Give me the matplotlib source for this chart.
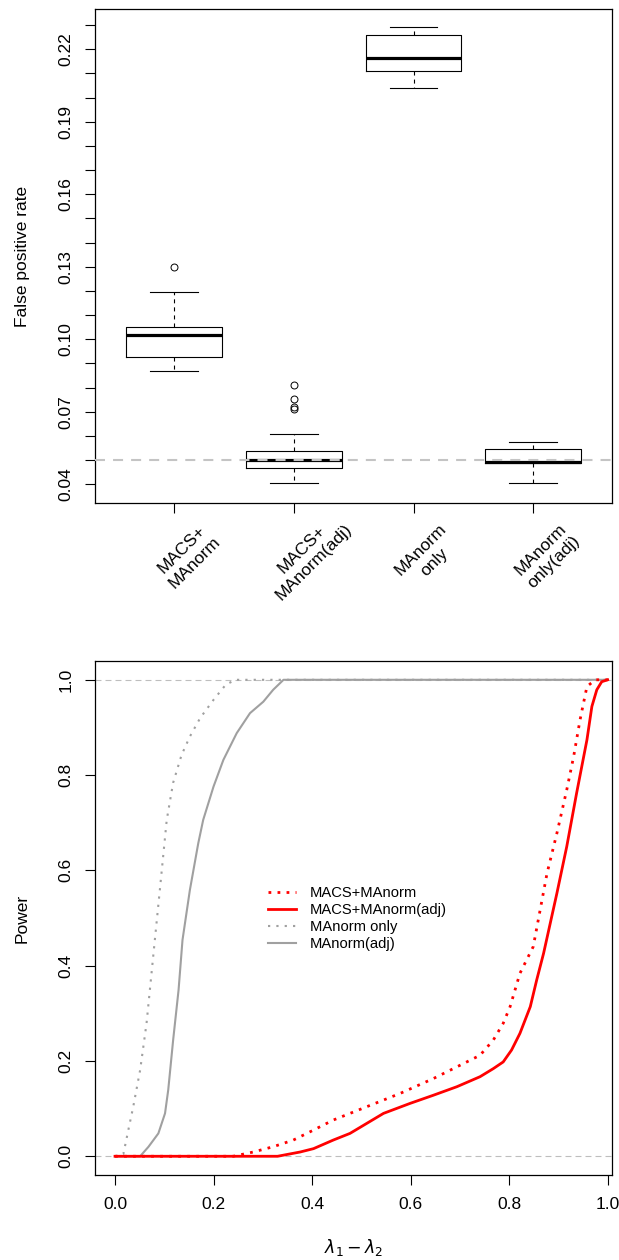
import numpy as np
import matplotlib.pyplot as plt
import matplotlib.transforms as mtransforms

plt.rcParams['font.family'] = ['Liberation Sans', 'DejaVu Sans']
plt.rcParams['lines.scale_dashes'] = False
plt.rcParams['axes.linewidth'] = 0.9

# False positive rate per method (box summary)
methods = ['MACS+\nMAnorm', 'MACS+\nMAnorm(adj)', 'MAnorm\nonly', 'MAnorm\nonly(adj)']
whisker_lo = [0.0869, 0.0404, 0.2039, 0.0404]
quart_lo = [0.0926, 0.0469, 0.2109, 0.0488]
medians = [0.1018, 0.0501, 0.2165, 0.0492]
quart_hi = [0.1051, 0.0539, 0.2259, 0.0547]
whisker_hi = [0.1196, 0.0608, 0.2291, 0.0575]
outliers = [[0.130], [0.0813, 0.0753, 0.0721, 0.0711], [], []]
nominal_fpr = 0.05

# Power curves against lambda1 - lambda2
macs_x = [0, 0.24, 0.281, 0.321, 0.362, 0.403, 0.443, 0.511, 0.579, 0.646, 0.714, 0.741,
          0.768, 0.788, 0.802, 0.822, 0.849, 0.877, 0.897, 0.917, 0.931, 0.944, 0.958, 0.975, 1.0]
macs_y = [0, 0, 0.009, 0.02, 0.034, 0.055, 0.076, 0.104, 0.132, 0.163, 0.198, 0.212,
          0.244, 0.279, 0.314, 0.384, 0.44, 0.594, 0.678, 0.769, 0.839, 0.916, 0.986, 1.0, 1.0]
macs_adj_x = [0, 0.33, 0.376, 0.403, 0.443, 0.477, 0.511, 0.545, 0.599, 0.646, 0.694, 0.741,
              0.768, 0.788, 0.805, 0.822, 0.843, 0.856, 0.870, 0.897, 0.917, 0.937, 0.958,
              0.968, 0.978, 0.988, 1.0]
macs_adj_y = [0, 0, 0.009, 0.016, 0.034, 0.048, 0.069, 0.09, 0.111, 0.128, 0.146, 0.167,
              0.184, 0.198, 0.223, 0.258, 0.314, 0.37, 0.426, 0.552, 0.65, 0.762, 0.874,
              0.944, 0.979, 0.996, 1.0]
manorm_x = [0, 0.017, 0.027, 0.037, 0.051, 0.064, 0.079, 0.091, 0.105, 0.118, 0.135, 0.152,
            0.173, 0.2, 0.225, 0.245, 1.0]
manorm_y = [0, 0.005, 0.055, 0.104, 0.181, 0.279, 0.435, 0.559, 0.706, 0.784, 0.842, 0.881,
            0.92, 0.958, 0.99, 1.0, 1.0]
manorm_adj_x = [0, 0.051, 0.068, 0.088, 0.1015, 0.108, 0.118, 0.129, 0.137, 0.152, 0.169,
                0.179, 0.2, 0.22, 0.247, 0.274, 0.301, 0.321, 0.342, 1.0]
manorm_adj_y = [0, 0, 0.02, 0.048, 0.09, 0.139, 0.244, 0.349, 0.454, 0.559, 0.657, 0.706,
                0.776, 0.832, 0.888, 0.93, 0.954, 0.979, 1.0, 1.0]
curve_labels = ['MACS+MAnorm', 'MACS+MAnorm(adj)', 'MAnorm only', 'MAnorm(adj)']

fig = plt.figure(figsize=(6.19, 12.6), dpi=100)
ax1 = fig.add_axes([0.1535, 0.601, 0.8357, 0.3916])
ax2 = fig.add_axes([0.1535, 0.0672, 0.8357, 0.4084])

FS = 12.5
tick_kw = dict(length=7.2, width=0.8, labelsize=FS, direction='out')

# ---- top: boxplots ----
stats = []
for i in range(len(methods)):
    stats.append(dict(whislo=whisker_lo[i], q1=quart_lo[i], med=medians[i],
                      q3=quart_hi[i], whishi=whisker_hi[i], fliers=outliers[i]))
ax1.bxp(stats, positions=range(1, 5), widths=0.8, capwidths=0.4, manage_ticks=False,
        boxprops=dict(color='black', linewidth=0.8),
        medianprops=dict(color='black', linewidth=2.3, solid_capstyle='butt'),
        whiskerprops=dict(color='black', linewidth=0.8, linestyle=(0, (2.9, 2.9))),
        capprops=dict(color='black', linewidth=0.8),
        flierprops=dict(marker='o', markerfacecolor='none', markeredgecolor='black',
                        markersize=5, markeredgewidth=0.7))
ax1.axhline(nominal_fpr, color='#C4C4C4', lw=1.5, ls=(0, (7.2, 5.8)), zorder=5)
ax1.set_xlim(0.34, 4.66)
ax1.set_ylim(0.0324, 0.2365)

yt = np.round(np.arange(0.04, 0.2301, 0.01), 2)
ax1.set_yticks(yt)
ax1.set_yticklabels([f'{v:.2f}' if i % 3 == 0 else '' for i, v in enumerate(yt)])
ax1.set_xticks(range(1, 5))
ax1.set_xticklabels([])
ax1.tick_params(axis='both', **tick_kw)
ax1.tick_params(axis='y', labelrotation=90, pad=8.5)
for lab in ax1.get_yticklabels():
    lab.set_va('center')

trans = mtransforms.blended_transform_factory(ax1.transData, ax1.transAxes)
for i, name in enumerate(methods):
    ax1.text(i + 1 + 0.117, -0.108, name, transform=trans, rotation=45, ha='center',
             va='center', multialignment='center', fontsize=FS, linespacing=1.25)
ax1.set_ylabel('False positive rate', fontsize=FS)
ax1.yaxis.set_label_coords(-0.126, 0.5)

# ---- bottom: power curves ----
ax2.axhline(0, color='#BEBEBE', lw=0.8, ls=(0, (4.3, 2.9)), zorder=1)
ax2.axhline(1, color='#BEBEBE', lw=0.8, ls=(0, (4.3, 2.9)), zorder=1)
gray = '#A0A0A0'
ax2.plot(manorm_x, manorm_y, color=gray, lw=1.5, ls=(0, (1.6, 4.4)), label=curve_labels[2])
ax2.plot(manorm_adj_x, manorm_adj_y, color=gray, lw=1.5, label=curve_labels[3])
ax2.plot(macs_x, macs_y, color='red', lw=2.0, ls=(0, (2.0, 4.5)), label=curve_labels[0])
ax2.plot(macs_adj_x, macs_adj_y, color='red', lw=2.0, label=curve_labels[1])

ax2.set_xlim(-0.0406, 1.0095)
ax2.set_ylim(-0.04, 1.04)
ax2.set_xticks(np.arange(0, 1.01, 0.2))
ax2.set_yticks(np.arange(0, 1.01, 0.2))
ax2.set_xticklabels([f'{v:.1f}' for v in np.arange(0, 1.01, 0.2)])
ax2.set_yticklabels([f'{v:.1f}' for v in np.arange(0, 1.01, 0.2)])
ax2.tick_params(axis='both', **tick_kw)
ax2.tick_params(axis='x', pad=8.5)
ax2.tick_params(axis='y', labelrotation=90, pad=8.5)
for lab in ax2.get_yticklabels():
    lab.set_va('center')

ax2.set_ylabel('Power', fontsize=FS)
ax2.yaxis.set_label_coords(-0.126, 0.5)
ax2.set_xlabel(r'$\lambda_1 - \lambda_2$', fontsize=FS)
ax2.xaxis.label.set_va('center')
ax2.xaxis.set_label_coords(0.5, -0.141)

h, l = ax2.get_legend_handles_labels()
order = [2, 3, 0, 1]
ax2.legend([h[k] for k in order], [l[k] for k in order], frameon=False, loc='upper left',
           bbox_to_anchor=(0.335, 0.562), fontsize=10.6, handlelength=1.86,
           handletextpad=0.95, labelspacing=0.2, borderpad=0, borderaxespad=0)

fig.savefig('out.png', dpi=100)
